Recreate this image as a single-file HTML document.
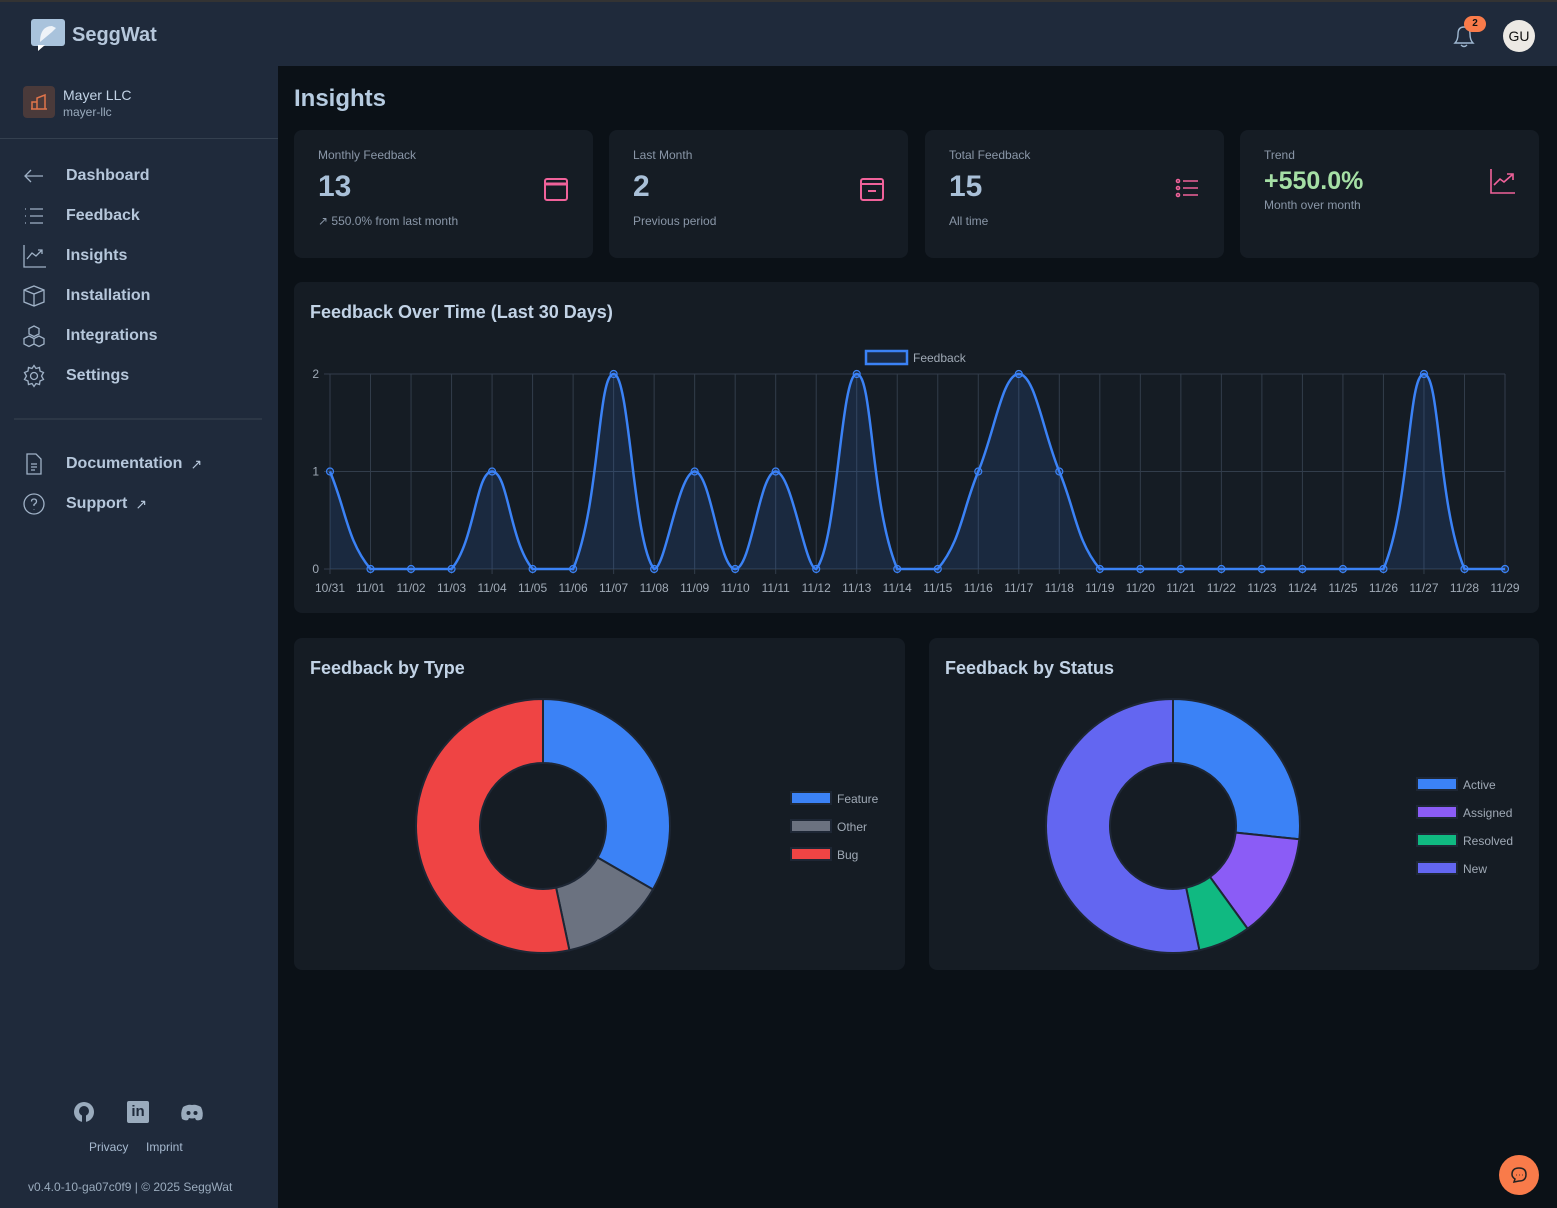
<!DOCTYPE html>
<html><head><meta charset="utf-8"><style>
*{margin:0;padding:0;box-sizing:border-box}
body{width:1557px;height:1208px;background:#0b1117;font-family:"Liberation Sans",sans-serif;position:relative;overflow:hidden;color:#b6c7db}
.abs{position:absolute}
#hdr{left:0;top:0;width:1557px;height:66px;background:#1f2a3b;border-top:2px solid #333}
#side{left:0;top:66px;width:278px;height:1142px;background:#1f2a3b}
.nav{position:absolute;left:22px;font-size:16px;font-weight:bold;color:#b6c7db;display:flex;align-items:center}
.nav svg{width:24px;height:24px;margin-right:20px;stroke:#9fb1c6;fill:none;stroke-width:1.3}
.card{position:absolute;background:#151c24;border-radius:8px}
.lbl{font-size:12px;color:#8a97a8}
.big{font-size:30px;font-weight:bold;color:#a9c0d8}
.sub{font-size:12px;color:#8a97a8}
.title{font-size:18px;font-weight:bold;color:#c2d3e6}
</style></head><body>
<div id="hdr" class="abs">
 <svg class="abs" style="left:30px;top:16px" width="38" height="34"><rect x="1" y="1" width="34" height="27" rx="3" fill="#a9c3dc"/><path d="M8 27 L8 33 L15 27Z" fill="#fff"/><path d="M10 24 C10 14 14 8 22 8 L26 10 L22 14 Z" fill="#fff" opacity=".8"/></svg>
 <div class="abs" style="left:72px;top:22px;font-size:20px;font-weight:bold;color:#b6c7db">SeggWat</div>
 <svg class="abs" style="left:1451px;top:21px" width="26" height="26" fill="none" stroke="#9fb8d1" stroke-width="1.4"><path d="M4 20 Q7 17 7 11 Q7 4 13 4 Q19 4 19 11 Q19 17 22 20 Z"/><path d="M10 22 Q13 25 16 22"/></svg>
 <div class="abs" style="left:1464px;top:14px;width:22px;height:16px;border-radius:8px;background:#f97b4a;color:#111;font-size:10px;font-weight:bold;text-align:center;line-height:16px">2</div>
 <div class="abs" style="left:1503px;top:18px;width:32px;height:32px;border-radius:16px;background:#ece9e4;color:#111;font-size:14px;text-align:center;line-height:32px">GU</div>
</div>
<div id="side" class="abs">
 <div class="abs" style="left:23px;top:20px;width:32px;height:32px;border-radius:4px;background:#4a3a3a"></div>
 <svg class="abs" style="left:30px;top:27px" width="18" height="18" fill="none" stroke="#e0744a" stroke-width="1.5"><path d="M2 16 V9 H7 V16 M7 16 V5 L15 2 V16 M1 16 H17"/></svg>
 <div class="abs" style="left:63px;top:21px;font-size:14px;color:#c2d3e6">Mayer LLC</div>
 <div class="abs" style="left:63px;top:39px;font-size:12px;color:#9aabbd">mayer-llc</div>
 <div class="abs" style="left:0;top:72px;width:278px;height:1px;background:#34404f"></div>
 <div class="abs" style="left:14px;top:352px;width:248px;height:2px;background:#2c3746"></div>
</div>
<div class="nav" style="top:164px"><svg viewBox="0 0 24 24"><path d="M21 12H3M9 6 3 12 9 18"/></svg>Dashboard</div>
<div class="nav" style="top:204px"><svg viewBox="0 0 24 24"><path d="M8 5H21M8 12H21M8 19H21M3 5h1M3 12h1M3 19h1"/></svg>Feedback</div>
<div class="nav" style="top:244px"><svg viewBox="0 0 24 24"><path d="M2 1V23H24M5 15 10 9 14 12 20 6M16 6H20V10"/></svg>Insights</div>
<div class="nav" style="top:284px"><svg viewBox="0 0 24 24"><path d="M12 2 22 6V18L12 22 2 18V6ZM2 6 12 10 22 6M12 10V22"/></svg>Installation</div>
<div class="nav" style="top:324px"><svg viewBox="0 0 24 24"><path d="M12 2 17 4.5V10L12 12.5 7 10V4.5ZM7 12 12 14.5V20L7 22.5 2 20V14.5ZM17 12 22 14.5V20L17 22.5 12 20V14.5Z"/></svg>Integrations</div>
<div class="nav" style="top:364px"><svg viewBox="0 0 24 24"><circle cx="12" cy="12" r="3.5"/><path d="M12 1.5 14 4.5 17.5 3.5 18 7 21.5 8.5 19.5 12 21.5 15.5 18 17 17.5 20.5 14 19.5 12 22.5 10 19.5 6.5 20.5 6 17 2.5 15.5 4.5 12 2.5 8.5 6 7 6.5 3.5 10 4.5Z"/></svg>Settings</div>
<div class="nav" style="top:452px"><svg viewBox="0 0 24 24"><path d="M5 2H14L19 7V22H5ZM9 12H15M9 15H15M9 18H13"/></svg>Documentation <span style="font-weight:normal;font-size:14px;margin-left:8px">↗</span></div>
<div class="nav" style="top:492px"><svg viewBox="0 0 24 24"><circle cx="12" cy="12" r="10"/><path d="M9.5 9.5Q9.5 7 12 7T14.5 9.5Q14.5 11 12 12.5V14M12 17V17.5"/></svg>Support <span style="font-weight:normal;font-size:14px;margin-left:8px">↗</span></div>
<svg class="abs" style="left:73px;top:1101px" width="22" height="22"><circle cx="11" cy="11" r="10" fill="#9aabbd"/><circle cx="11" cy="10" r="5" fill="#1f2a3b"/><rect x="9" y="14" width="4" height="7" fill="#1f2a3b"/></svg>
<div class="abs" style="left:127px;top:1101px;width:22px;height:22px;background:#9aabbd;border-radius:2px;color:#1f2a3b;font-weight:bold;font-size:15px;text-align:center;line-height:22px">in</div>
<svg class="abs" style="left:180px;top:1103px" width="24" height="18"><path d="M3 4Q8 1 12 2Q16 1 21 4Q24 10 22 16Q19 18 16 17L15 15Q12 16 9 15L8 17Q5 18 2 16Q0 10 3 4Z" fill="#9aabbd"/><circle cx="8.5" cy="10" r="2" fill="#1f2a3b"/><circle cx="15.5" cy="10" r="2" fill="#1f2a3b"/></svg>
<div class="abs" style="left:89px;top:1140px;font-size:12px;color:#a7bad0">Privacy</div>
<div class="abs" style="left:146px;top:1140px;font-size:12px;color:#a7bad0">Imprint</div>
<div class="abs" style="left:28px;top:1180px;font-size:12px;color:#9aabbd">v0.4.0-10-ga07c0f9 | © 2025 SeggWat</div>

<div class="abs" style="left:294px;top:85px;font-size:24px;font-weight:bold;color:#b6cbe0">Insights</div>

<div class="card" style="left:294px;top:130px;width:299px;height:128px">
 <div class="abs lbl" style="left:24px;top:18px">Monthly Feedback</div>
 <div class="abs big" style="left:24px;top:40px">13</div>
 <div class="abs sub" style="left:24px;top:84px">↗ 550.0% from last month</div>
 <svg class="abs" style="left:249px;top:45px" width="26" height="28" fill="none" stroke="#f0629a" stroke-width="2"><rect x="2" y="4" width="22" height="21" rx="2"/><path d="M2 9H24" stroke-width="3"/></svg>
</div>
<div class="card" style="left:609px;top:130px;width:299px;height:128px">
 <div class="abs lbl" style="left:24px;top:18px">Last Month</div>
 <div class="abs big" style="left:24px;top:40px">2</div>
 <div class="abs sub" style="left:24px;top:84px">Previous period</div>
 <svg class="abs" style="left:250px;top:45px" width="26" height="28" fill="none" stroke="#f0629a" stroke-width="2"><rect x="2" y="4" width="22" height="21" rx="2"/><path d="M2 9H24M9 16H17"/></svg>
</div>
<div class="card" style="left:925px;top:130px;width:299px;height:128px">
 <div class="abs lbl" style="left:24px;top:18px">Total Feedback</div>
 <div class="abs big" style="left:24px;top:40px">15</div>
 <div class="abs sub" style="left:24px;top:84px">All time</div>
 <svg class="abs" style="left:250px;top:48px" width="26" height="20" fill="none" stroke="#f0629a" stroke-width="1.6"><circle cx="3" cy="3" r="1.5"/><circle cx="3" cy="10" r="1.5"/><circle cx="3" cy="17" r="1.5"/><path d="M8 3H23M8 10H23M8 17H23"/></svg>
</div>
<div class="card" style="left:1240px;top:130px;width:299px;height:128px">
 <div class="abs lbl" style="left:24px;top:18px">Trend</div>
 <div class="abs" style="left:24px;top:37px;font-size:25px;font-weight:bold;color:#a5dfa5">+550.0%</div>
 <div class="abs sub" style="left:24px;top:68px">Month over month</div>
 <svg class="abs" style="left:249px;top:37px" width="28" height="28" fill="none" stroke="#f0629a" stroke-width="1.6"><path d="M2 2V26H26M5 18 11 12 15 15 23 8M18 7H24V13"/></svg>
</div>

<div class="card" style="left:294px;top:282px;width:1245px;height:331px">
 <div class="abs title" style="left:16px;top:20px">Feedback Over Time (Last 30 Days)</div>
</div>
<svg id="lc" class="abs" style="left:0;top:0" width="1557" height="620"></svg>

<div class="card" style="left:294px;top:638px;width:611px;height:332px"><div class="abs title" style="left:16px;top:20px">Feedback by Type</div></div>
<div class="card" style="left:929px;top:638px;width:610px;height:332px"><div class="abs title" style="left:16px;top:20px">Feedback by Status</div></div>
<svg id="dc" class="abs" style="left:0;top:0" width="1557" height="1000"></svg>

<div class="abs" style="left:1499px;top:1155px;width:40px;height:40px;border-radius:20px;background:#f97b4a"></div>
<svg class="abs" style="left:1509px;top:1165px" width="20" height="20" fill="none" stroke="#222" stroke-width="1.5"><path d="M10 3Q17 3 17 9.5T10 16L5 17 6 14Q3 12 3 9.5 3 3 10 3Z"/><path d="M7 10h.5M10 10h.5M13 10h.5"/></svg>

<script>
var NS="http://www.w3.org/2000/svg";
function el(p,t,a,txt){var e=document.createElementNS(NS,t);for(var k in a)e.setAttribute(k,a[k]);if(txt!=null)e.textContent=txt;p.appendChild(e);return e;}
var lc=document.getElementById('lc');
var data=[1,0,0,0,1,0,0,2,0,1,0,1,0,2,0,0,1,2,1,0,0,0,0,0,0,0,0,2,0,0];
var labels=["10/31"];for(var i=1;i<=29;i++)labels.push("11/"+(i<10?"0":"")+i);
var x0=330,x1=1505,st=(x1-x0)/29,yv=function(v){return 569-v*97.5};
for(var i=0;i<30;i++){var x=x0+i*st;el(lc,'line',{x1:x,y1:374,x2:x,y2:574,stroke:'#323d4b','stroke-width':1});
 el(lc,'text',{x:x,y:592,'text-anchor':'middle','font-size':12,fill:'#a0aab6','font-family':'Liberation Sans'},labels[i]);}
[0,1,2].forEach(function(v){el(lc,'line',{x1:324,y1:yv(v),x2:1505,y2:yv(v),stroke:'#323d4b','stroke-width':1});
 el(lc,'text',{x:319,y:yv(v)+4,'text-anchor':'end','font-size':12,fill:'#a0aab6','font-family':'Liberation Sans'},v);});
var P=data.map(function(v,i){return [x0+i*st,yv(v)]});
var cps=P.map(function(c,i){var p=P[i-1]||c,n=P[i+1]||c;
 var d01=Math.hypot(c[0]-p[0],c[1]-p[1]),d12=Math.hypot(n[0]-c[0],n[1]-c[1]);
 var fa=d01/(d01+d12)||0,fb=d12/(d01+d12)||0,t=0.4;
 var a=[c[0]-fa*t*(n[0]-p[0]),c[1]-fa*t*(n[1]-p[1])],b=[c[0]+fb*t*(n[0]-p[0]),c[1]+fb*t*(n[1]-p[1])];
 a[1]=Math.min(569,Math.max(374,a[1]));b[1]=Math.min(569,Math.max(374,b[1]));return [a,b];});
var d="M"+P[0][0]+" "+P[0][1];
for(var i=1;i<30;i++){d+=" C"+cps[i-1][1][0]+" "+cps[i-1][1][1]+" "+cps[i][0][0]+" "+cps[i][0][1]+" "+P[i][0]+" "+P[i][1];}
el(lc,'path',{d:d+" L"+x1+" 569 L"+x0+" 569Z",fill:'rgba(59,130,246,0.13)'});
el(lc,'path',{d:d,fill:'none',stroke:'#3b82f6','stroke-width':2.5});
P.forEach(function(p){el(lc,'circle',{cx:p[0],cy:p[1],r:3.5,fill:'rgba(59,130,246,0.15)',stroke:'#3b82f6','stroke-width':1.2});});
el(lc,'rect',{x:866,y:351,width:41,height:13,fill:'rgba(59,130,246,0.15)',stroke:'#3b82f6','stroke-width':2.5});
el(lc,'text',{x:913,y:362,'font-size':12,fill:'#a0aab6','font-family':'Liberation Sans'},'Feedback');

var dc=document.getElementById('dc');
function arc(cx,cy,R,r,a0,a1,col){var f=Math.PI/180;function pt(rad,a){return [cx+rad*Math.sin(a*f),cy-rad*Math.cos(a*f)];}
 var L=a1-a0>180?1:0,p1=pt(R,a0),p2=pt(R,a1),p3=pt(r,a1),p4=pt(r,a0);
 el(dc,'path',{d:"M"+p1+" A"+R+" "+R+" 0 "+L+" 1 "+p2+" L"+p3+" A"+r+" "+r+" 0 "+L+" 0 "+p4+"Z",fill:col,stroke:'#1e2735','stroke-width':2});}
function donut(cx,cy,segs){var a=0;segs.forEach(function(s){arc(cx,cy,127,63,a,a+s[0]*24,s[1]);a+=s[0]*24;});}
donut(543,826,[[5,'#3b82f6'],[2,'#6b7280'],[8,'#ef4444']]);
donut(1173,826,[[4,'#3b82f6'],[2,'#8b5cf6'],[1,'#10b981'],[8,'#6366f1']]);
function leg(x,y,items){items.forEach(function(it,i){el(dc,'rect',{x:x,y:y+i*28-6,width:40,height:12,fill:it[1],stroke:'#1e2735','stroke-width':2});
 el(dc,'text',{x:x+46,y:y+i*28+5,'font-size':12,fill:'#a0aab6','font-family':'Liberation Sans'},it[0]);});}
leg(791,798,[['Feature','#3b82f6'],['Other','#6b7280'],['Bug','#ef4444']]);
leg(1417,784,[['Active','#3b82f6'],['Assigned','#8b5cf6'],['Resolved','#10b981'],['New','#6366f1']]);
</script>
</body></html>
